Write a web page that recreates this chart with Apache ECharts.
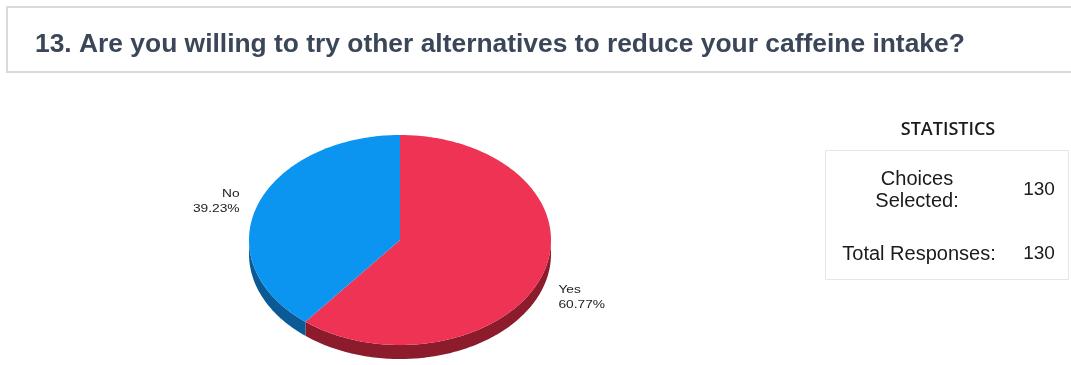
<!DOCTYPE html>
<html>
<head>
<meta charset="utf-8">
<script src="https://cdn.jsdelivr.net/npm/echarts@6/dist/echarts.min.js"></script>
<style>
html,body{margin:0;padding:0;background:#fff;}
#chart{width:1071px;height:365px;}
</style>
</head>
<body>
<div id="chart"></div>
<script>
const titleText = '13. Are you willing to try other alternatives to reduce your caffeine intake?';
const categories = ['Yes', 'No'];
const values = [79, 51];
const percentLabels = ['60.77%', '39.23%'];
const topColors = ['#ee3354', '#0b95f0'];
const sideColors = ['#8c1b2b', '#0b5a96'];
const statsHeader = 'STATISTICS';
const statLabels = ['Choices\nSelected:', 'Total Responses:'];
const statValues = [130, 130];

const chart = echarts.init(document.getElementById('chart'), null, {renderer: 'canvas'});

const CX = 400, CY = 240, RX = 151, RY = 105, DEPTH = 14;
const total = values.reduce((a, b) => a + b, 0);
const starts = [];
let acc = 0;
values.forEach(v => { starts.push(acc); acc += v; });

function pt(theta, dy) {
  const r = theta * Math.PI / 180;
  return [CX + RX * Math.sin(r), CY - RY * Math.cos(r) + (dy || 0)];
}

function renderItem(params, api) {
  const i = params.dataIndex;
  const v = api.value(0);
  const a = starts[i] / total * 360;
  const b = (starts[i] + v) / total * 360;
  const children = [];
  const sa = Math.max(a, 90), sb = Math.min(b, 270);
  if (sb > sa) {
    const pts = [];
    for (let t = sa; t < sb; t += 1) pts.push(pt(t, 0));
    pts.push(pt(sb, 0));
    for (let t = sb; t > sa; t -= 1) pts.push(pt(t, DEPTH));
    pts.push(pt(sa, DEPTH));
    children.push({type: 'polygon', shape: {points: pts}, style: {fill: sideColors[i]}});
  }
  const tp = [[CX, CY]];
  for (let t = a; t < b; t += 1) tp.push(pt(t, 0));
  tp.push(pt(b, 0));
  children.push({type: 'polygon', shape: {points: tp}, style: {fill: topColors[i]}});
  const mid = (a + b) / 2;
  const m = pt(mid, 0);
  const right = Math.sin(mid * Math.PI / 180) >= 0;
  const front = Math.cos(mid * Math.PI / 180) < 0;
  children.push({
    type: 'text',
    z2: 10,
    x: right ? m[0] + 16 : m[0] - 18,
    y: front ? m[1] + 23 : m[1] - 4,
    scaleX: 1.25,
    style: {
      text: categories[i] + '\n' + percentLabels[i],
      x: 0,
      y: 0,
      align: right ? 'left' : 'right',
      verticalAlign: 'middle',
      font: '11px "Liberation Sans", Arial, sans-serif',
      lineHeight: 15,
      fill: '#222'
    }
  });
  return {type: 'group', children: children};
}

const option = {
  backgroundColor: '#ffffff',
  animation: false,
  title: {
    text: titleText,
    left: 30,
    top: 27,
    textStyle: {
      fontFamily: '"Liberation Sans", Arial, sans-serif',
      fontWeight: 'bold',
      fontSize: 26.4,
      color: '#3b4759'
    }
  },
  graphic: [
    {type: 'rect', shape: {x: 7, y: 7, width: 1080, height: 65}, style: {fill: 'none', stroke: '#d9dadf', lineWidth: 2}, z: -1},
    {type: 'text', style: {text: statsHeader, x: 948, y: 130, align: 'center', verticalAlign: 'middle', font: '600 18px "Open Sans", "Noto Sans", sans-serif', fill: '#1a1a1a'}},
    {type: 'rect', shape: {x: 825.5, y: 150.5, width: 243, height: 129}, style: {fill: 'none', stroke: '#e6e6e6', lineWidth: 1}},
    {type: 'text', style: {text: statLabels[0], x: 917, y: 190, align: 'center', verticalAlign: 'middle', font: '20px "Liberation Sans", Arial, sans-serif', lineHeight: 22, fill: '#1a1a1a'}},
    {type: 'text', style: {text: String(statValues[0]), x: 1039, y: 190, align: 'center', verticalAlign: 'middle', font: '19px "Liberation Sans", Arial, sans-serif', fill: '#1a1a1a'}},
    {type: 'text', style: {text: statLabels[1], x: 919, y: 254, align: 'center', verticalAlign: 'middle', font: '20px "Liberation Sans", Arial, sans-serif', fill: '#1a1a1a'}},
    {type: 'text', style: {text: String(statValues[1]), x: 1039, y: 254, align: 'center', verticalAlign: 'middle', font: '19px "Liberation Sans", Arial, sans-serif', fill: '#1a1a1a'}}
  ],
  series: [{
    type: 'custom',
    coordinateSystem: 'none',
    renderItem: renderItem,
    data: values.map(v => [v])
  }]
};
chart.setOption(option);
</script>
</body>
</html>
